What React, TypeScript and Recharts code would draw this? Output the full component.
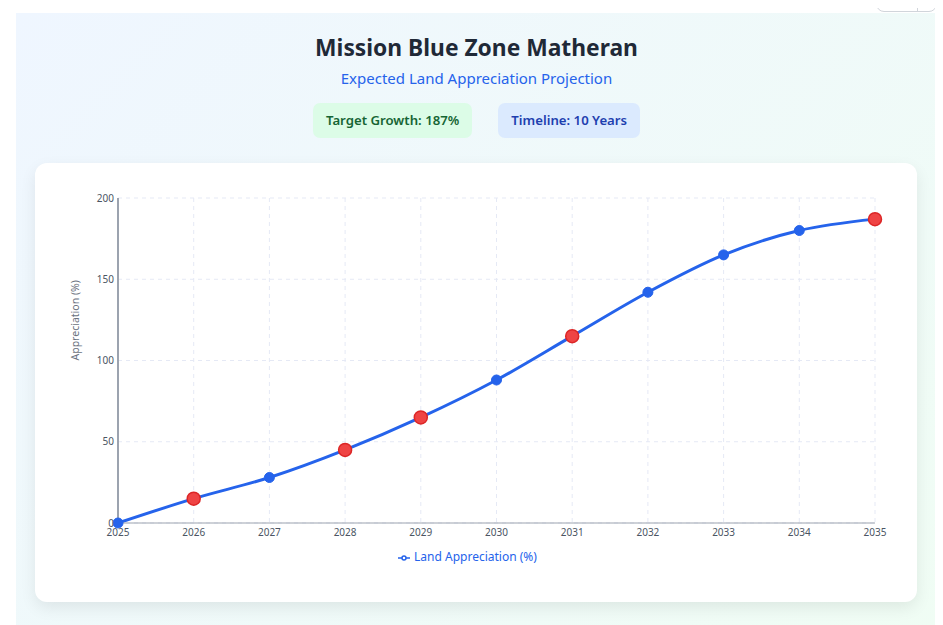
import React from "react";
import {
  LineChart,
  Line,
  XAxis,
  YAxis,
  CartesianGrid,
  Legend,
} from "recharts";

const years = ["2025", "2026", "2027", "2028", "2029", "2030", "2031", "2032", "2033", "2034", "2035"];
const appreciation = [0, 15, 28, 45, 65, 88, 115, 142, 165, 180, 187];
const milestoneYears = ["2026", "2028", "2029", "2031", "2035"];
const yTicks = [0, 50, 100, 150, 200];

const data = years.map((year, i) => ({
  year,
  value: appreciation[i],
  milestone: milestoneYears.includes(year),
}));

const FONT = "'Noto Sans', 'Open Sans', sans-serif";

// red for milestone years, blue otherwise
const renderDot = (props: any) => {
  const { cx, cy, payload, index } = props;
  if (payload.milestone) {
    return <circle key={index} cx={cx} cy={cy} r={6.5} fill="#ef4444" stroke="#dc2626" strokeWidth={1.5} />;
  }
  return <circle key={index} cx={cx} cy={cy} r={5} fill="#2563eb" stroke="#2563eb" strokeWidth={1} />;
};

function Badge({ text, bg, color }: { text: string; bg: string; color: string }) {
  return (
    <div
      style={{
        background: bg,
        color,
        fontSize: 13.2,
        fontWeight: 600,
        height: 35,
        lineHeight: "35px",
        padding: "0 13px",
        borderRadius: 7,
      }}
    >
      {text}
    </div>
  );
}

export default function App() {
  return (
    <div style={{ fontFamily: FONT, position: "relative" }}>
      <div
        style={{
          position: "absolute",
          top: -38,
          left: 868,
          width: 59,
          height: 35,
          border: "1px solid #d1d5db",
          borderRadius: 8,
          background: "#fff",
        }}
      >
        <div style={{ position: "absolute", left: 40, top: 0, bottom: 0, borderLeft: "1px solid #d1d5db" }} />
      </div>
      <div
        style={{
          marginTop: 5,
          marginLeft: 8,
          width: 921,
          height: 640,
          boxSizing: "border-box",
          paddingTop: 20,
          background: "linear-gradient(135deg, #eff6ff 0%, #f0fdf4 100%)",
        }}
      >
        <div style={{ textAlign: "center", fontSize: 22.8, fontWeight: 700, color: "#1f2937", lineHeight: "29px" }}>
          Mission Blue Zone Matheran
        </div>
        <div style={{ textAlign: "center", fontSize: 15, color: "#2563eb", marginTop: 5, lineHeight: "22px" }}>
          Expected Land Appreciation Projection
        </div>
        <div style={{ display: "flex", justifyContent: "center", gap: 26, marginTop: 14 }}>
          <Badge text="Target Growth: 187%" bg="#dcfce7" color="#166534" />
          <Badge text="Timeline: 10 Years" bg="#dbeafe" color="#1e40af" />
        </div>
        <div
          style={{
            marginTop: 25,
            marginLeft: 19,
            width: 882,
            height: 439,
            background: "#fff",
            borderRadius: 12,
            boxShadow: "0 6px 16px rgba(0,0,0,0.08)",
          }}
        >
          <LineChart
            width={882}
            height={439}
            data={data}
            margin={{ top: 35, right: 42, bottom: 37, left: 23 }}
          >
            <CartesianGrid strokeDasharray="4 4" stroke="#e5e9f5" />
            <XAxis
              dataKey="year"
              tickLine={false}
              axisLine={{ stroke: "#9ca3af" }}
              tick={{ fill: "#4b5563", fontSize: 10 }}
              tickSize={2}
              tickMargin={4}
              height={25}
              interval={0}
            />
            <YAxis
              domain={[0, 200]}
              ticks={yTicks}
              tickLine={false}
              axisLine={{ stroke: "#9ca3af", strokeWidth: 2 }}
              tick={{ fill: "#4b5563", fontSize: 10 }}
              tickSize={2}
              width={60}
              label={{
                value: "Appreciation (%)",
                angle: -90,
                position: "insideLeft",
                offset: 17,
                fill: "#6b7280",
                fontSize: 10.5,
              }}
            />
            <Legend
              verticalAlign="bottom"
              iconSize={12}
              wrapperStyle={{ fontSize: 12, paddingLeft: 6 }}
            />
            <Line
              type="monotone"
              dataKey="value"
              name="Land Appreciation (%)"
              stroke="#2563eb"
              strokeWidth={3}
              dot={renderDot}
              activeDot={false}
              isAnimationActive={false}
            />
          </LineChart>
        </div>
      </div>
    </div>
  );
}
